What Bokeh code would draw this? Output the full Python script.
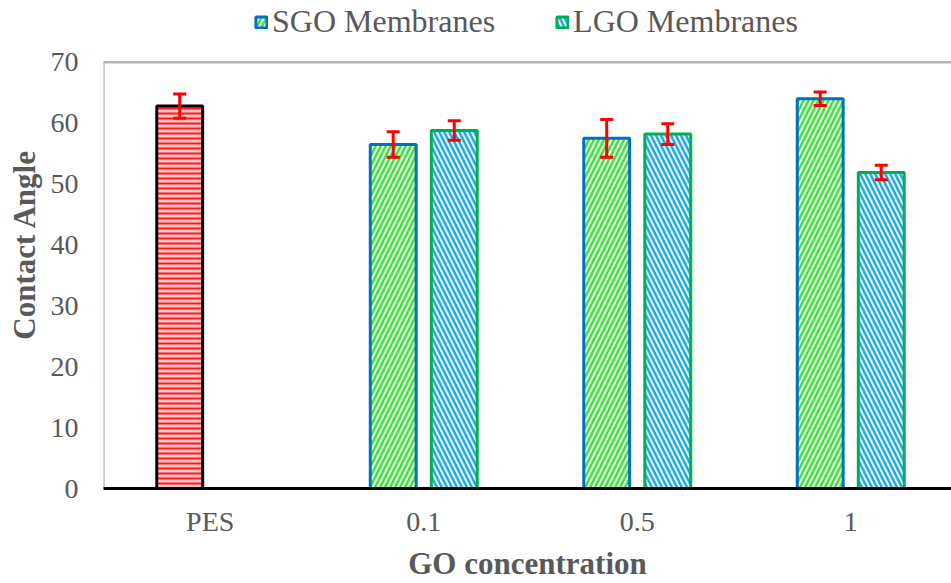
from bokeh.plotting import figure
from bokeh.models import (Range1d, FixedTicker, Whisker, ColumnDataSource, Legend,
                          LegendItem, BoxAnnotation, TeeHead)
from bokeh.embed import file_html
from bokeh.resources import INLINE

# ---- data ----
categories = ["PES", "0.1", "0.5", "1"]
pes_value = [62.8]
pes_error = [2.0]
sgo_values = [56.5, 57.5, 64.0]      # 0.1, 0.5, 1
sgo_errors = [2.1, 3.1, 1.1]
lgo_values = [58.8, 58.2, 51.9]
lgo_errors = [1.6, 1.7, 1.2]
y_ticks = [0, 10, 20, 30, 40, 50, 60, 70]
y_max = 70

# ---- layout constants ----
slot = 0.143
bar_w = 0.215
cat_pos = [i + 0.5 for i in range(len(categories))]

pes_x = [cat_pos[0] - slot]
sgo_x = [c - slot for c in cat_pos[1:]]
lgo_x = [c + slot for c in cat_pos[1:]]

grey = "#595959"
font = "Liberation Serif"

p = figure(width=951, height=583, x_range=Range1d(0, 3.972), y_range=Range1d(0, 80.14),
           output_backend="svg", toolbar_location=None,
           min_border_left=103, min_border_right=0, min_border_top=0, min_border_bottom=93)
p.xgrid.visible = False
p.ygrid.visible = False
p.outline_line_color = None
p.background_fill_color = "white"

src_pes = ColumnDataSource(dict(x=pes_x, top=pes_value,
                                upper=[v + e for v, e in zip(pes_value, pes_error)],
                                lower=[v - e for v, e in zip(pes_value, pes_error)]))
src_sgo = ColumnDataSource(dict(x=sgo_x, top=sgo_values,
                                upper=[v + e for v, e in zip(sgo_values, sgo_errors)],
                                lower=[v - e for v, e in zip(sgo_values, sgo_errors)]))
src_lgo = ColumnDataSource(dict(x=lgo_x, top=lgo_values,
                                upper=[v + e for v, e in zip(lgo_values, lgo_errors)],
                                lower=[v - e for v, e in zip(lgo_values, lgo_errors)]))

r_pes = p.vbar(x="x", top="top", bottom=0, width=bar_w, source=src_pes,
               fill_color="#ffc4c4", hatch_pattern="-", hatch_color="#ff1a1a",
               hatch_weight=2, hatch_scale=5, line_color="black", line_width=3)
r_sgo = p.vbar(x="x", top="top", bottom=0, width=bar_w, source=src_sgo,
               fill_color="#e9fce9", hatch_pattern="/", hatch_color="#42e042",
               hatch_weight=2.5, hatch_scale=10, line_color="#0070C0", line_width=3)
r_lgo = p.vbar(x="x", top="top", bottom=0, width=bar_w, source=src_lgo,
               fill_color="#e6f6fc", hatch_pattern="\\", hatch_color="#27a9e1",
               hatch_weight=2.5, hatch_scale=10, line_color="#00B050", line_width=3)

for s in (src_pes, src_sgo, src_lgo):
    w = Whisker(base="x", upper="upper", lower="lower", source=s, level="overlay",
                line_color="red", line_width=3,
                upper_head=TeeHead(size=13, line_color="red", line_width=3),
                lower_head=TeeHead(size=13, line_color="red", line_width=3))
    p.add_layout(w)

# plot-area border (left and top edges; right edge lies past the window)
p.add_layout(BoxAnnotation(left=0, right=4.5, bottom=0, top=y_max, fill_alpha=0,
                           line_color="black", line_width=2.5, level="underlay"))

# axes
p.xaxis.ticker = FixedTicker(ticks=cat_pos)
p.xaxis.major_label_overrides = {c: lab for c, lab in zip(cat_pos, categories)}
p.yaxis.ticker = FixedTicker(ticks=y_ticks)
for ax in (p.xaxis[0], p.yaxis[0]):
    ax.major_tick_line_color = None
    ax.minor_tick_line_color = None
    ax.major_tick_out = 0
    ax.major_tick_in = 0
    ax.major_label_text_font = font
    ax.major_label_text_font_size = "28px"
    ax.major_label_text_color = grey
    ax.axis_label_text_font = font
    ax.axis_label_text_font_size = "31px"
    ax.axis_label_text_font_style = "bold"
    ax.axis_label_text_color = grey
p.xaxis.axis_line_color = "black"
p.xaxis.axis_line_width = 3
p.yaxis.axis_line_color = None
p.xaxis.axis_label = "GO concentration"
p.yaxis.axis_label = "Contact Angle"
p.xaxis.major_label_standoff = 17
p.xaxis.axis_label_standoff = 6
p.yaxis.major_label_standoff = 25
p.yaxis.axis_label_standoff = 6

legend = Legend(items=[LegendItem(label="SGO Membranes", renderers=[r_sgo]),
                       LegendItem(label="LGO Membranes", renderers=[r_lgo])],
                orientation="horizontal", location=(151, 448),
                border_line_color=None, background_fill_alpha=0,
                label_text_font=font, label_text_font_size="32px",
                label_text_color=grey, glyph_width=14, glyph_height=14,
                spacing=60, label_standoff=4, padding=4, margin=0)
p.add_layout(legend)

open("out.html", "w").write(file_html(p, INLINE))
